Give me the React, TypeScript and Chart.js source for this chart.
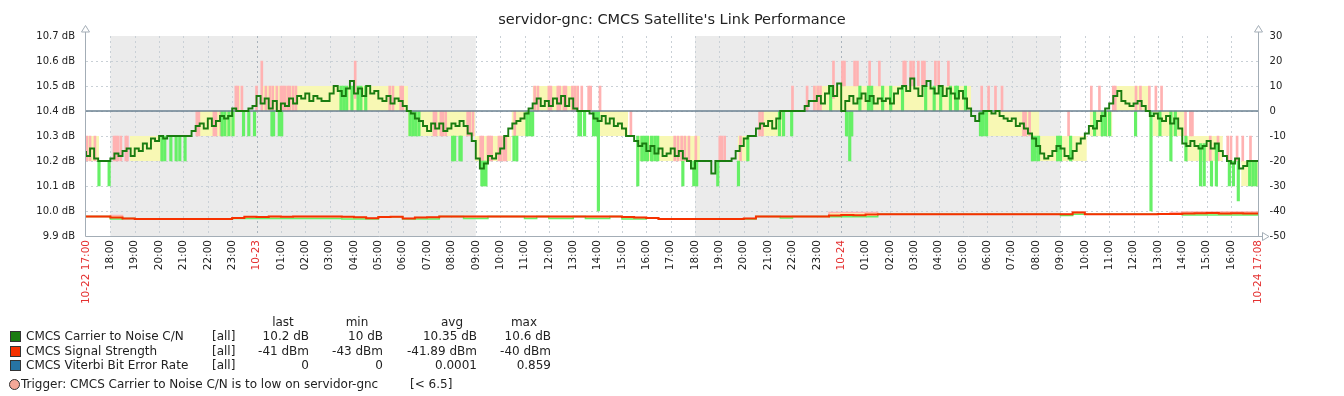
import React, { useEffect, useRef } from 'react';
import { Chart, registerables } from 'chart.js';

Chart.register(...registerables);

// ---------------- DATA ----------------
const TITLE = "servidor-gnc: CMCS Satellite's Link Performance";

// time axis: minutes since 10-22 17:00
const END_MIN = 2888; // 10-24 17:08
const CN_STEP = 10;
const SIG_STEP = 30;
const BER_STEP = 240;

const TICK_LABELS = [
  '10-22 17:00', '18:00', '19:00', '20:00', '21:00', '22:00', '23:00', '10-23',
  '01:00', '02:00', '03:00', '04:00', '05:00', '06:00', '07:00', '08:00', '09:00',
  '10:00', '11:00', '12:00', '13:00', '14:00', '15:00', '16:00', '17:00', '18:00',
  '19:00', '20:00', '21:00', '22:00', '23:00', '10-24', '01:00', '02:00', '03:00',
  '04:00', '05:00', '06:00', '07:00', '08:00', '09:00', '10:00', '11:00', '12:00',
  '13:00', '14:00', '15:00', '16:00', '10-24 17:08',
];

const LEFT_TICKS = [9.9, 10.0, 10.1, 10.2, 10.3, 10.4, 10.5, 10.6, 10.7];
const RIGHT_TICKS = [-50, -40, -30, -20, -10, 0, 10, 20, 30];

// non-working periods (shaded), minutes
const NON_WORK = [[60, 960], [1500, 2400]];

// CMCS Carrier to Noise C/N, average, 10-minute buckets
const CN_AVG = [
  10.24, 10.22, 10.25, 10.21, 10.20, 10.20,
  10.20, 10.21, 10.23, 10.22, 10.24, 10.25,
  10.22, 10.25, 10.24, 10.27, 10.25, 10.29,
  10.28, 10.30, 10.29, 10.30, 10.30, 10.30,
  10.30, 10.30, 10.30, 10.32, 10.34, 10.35,
  10.33, 10.37, 10.34, 10.36, 10.38, 10.37,
  10.38, 10.41, 10.40, 10.40, 10.40, 10.41,
  10.42, 10.46, 10.43, 10.45, 10.41, 10.44,
  10.40, 10.43, 10.42, 10.45, 10.43, 10.46,
  10.45, 10.47, 10.44, 10.46, 10.45, 10.44,
  10.44, 10.47, 10.50, 10.48, 10.46, 10.49,
  10.52, 10.47, 10.49, 10.46, 10.50, 10.47,
  10.48, 10.45, 10.44, 10.46, 10.43, 10.45,
  10.44, 10.42, 10.40, 10.39, 10.37, 10.36,
  10.34, 10.32, 10.35, 10.33, 10.35, 10.32,
  10.33, 10.35, 10.34, 10.36, 10.34, 10.31,
  10.28, 10.21, 10.17, 10.19, 10.22, 10.21,
  10.23, 10.25, 10.30, 10.33, 10.35, 10.36,
  10.37, 10.39, 10.41, 10.43, 10.45, 10.42,
  10.44, 10.42, 10.45, 10.43, 10.46, 10.42,
  10.45, 10.41, 10.40, 10.40, 10.40, 10.39,
  10.37, 10.36, 10.38, 10.35, 10.37, 10.34,
  10.35, 10.33, 10.30, 10.30, 10.28, 10.26,
  10.27, 10.24, 10.26, 10.23, 10.25, 10.22,
  10.23, 10.25, 10.22, 10.24, 10.21, 10.20,
  10.17, 10.20, 10.20, 10.20, 10.20, 10.15,
  10.20, 10.20, 10.20, 10.20, 10.21, 10.24,
  10.26, 10.29, 10.30, 10.30, 10.33, 10.35,
  10.34, 10.36, 10.33, 10.37, 10.40, 10.40,
  10.40, 10.40, 10.40, 10.40, 10.42, 10.44,
  10.44, 10.46, 10.43, 10.47, 10.50, 10.46,
  10.51, 10.40, 10.44, 10.46, 10.43, 10.45,
  10.47, 10.44, 10.46, 10.43, 10.45, 10.44,
  10.45, 10.43, 10.47, 10.49, 10.50, 10.48,
  10.53, 10.49, 10.46, 10.50, 10.52, 10.49,
  10.47, 10.50, 10.46, 10.49, 10.47, 10.45,
  10.48, 10.45, 10.41, 10.38, 10.36, 10.39,
  10.40, 10.40, 10.39, 10.40, 10.38, 10.37,
  10.36, 10.37, 10.34, 10.35, 10.33, 10.31,
  10.29, 10.26, 10.23, 10.21, 10.22, 10.24,
  10.26, 10.25, 10.22, 10.21, 10.24, 10.27,
  10.29, 10.31, 10.34, 10.33, 10.36, 10.38,
  10.41, 10.43, 10.46, 10.48, 10.44, 10.43,
  10.42, 10.43, 10.44, 10.42, 10.40, 10.38,
  10.39, 10.37, 10.36, 10.38, 10.35, 10.37,
  10.33, 10.27, 10.26, 10.28, 10.26, 10.25,
  10.26, 10.28, 10.25, 10.27, 10.24, 10.22,
  10.20, 10.19, 10.21, 10.17, 10.18, 10.20,
  10.20,
];

// C/N min-max region [startMin, endMin, low, high]
const CN_BANDS = [
  [0, 32, 10.2, 10.3], [108, 190, 10.2, 10.3], [270, 367, 10.3, 10.4],
  [367, 380, 10.4, 10.5], [433, 793, 10.4, 10.5], [793, 958, 10.3, 10.4],
  [958, 1048, 10.2, 10.3], [1048, 1100, 10.3, 10.4], [1100, 1210, 10.4, 10.5],
  [1248, 1335, 10.3, 10.4], [1357, 1512, 10.2, 10.3], [1605, 1635, 10.2, 10.3],
  [1660, 1720, 10.3, 10.4], [1790, 2180, 10.4, 10.5], [2220, 2348, 10.3, 10.4],
  [2348, 2465, 10.2, 10.3], [2472, 2528, 10.3, 10.4], [2528, 2620, 10.4, 10.5],
  [2627, 2705, 10.3, 10.4], [2705, 2800, 10.2, 10.3], [2845, 2888, 10.1, 10.2],
];

// C/N max excursions [minute, from, to]
const CN_MAX_SPIKES = [
  [2, 10.2, 10.3], [10, 10.2, 10.3], [22, 10.2, 10.3],
  [69, 10.2, 10.3], [74, 10.2, 10.3], [79, 10.2, 10.3], [86, 10.2, 10.3], [98, 10.2, 10.3], [102, 10.2, 10.3],
  [273, 10.3, 10.4], [278, 10.3, 10.4], [315, 10.3, 10.4], [320, 10.3, 10.4], [332, 10.3, 10.4],
  [369, 10.4, 10.5], [374, 10.4, 10.5], [384, 10.4, 10.5], [420, 10.4, 10.5], [433, 10.4, 10.6],
  [443, 10.4, 10.5], [453, 10.4, 10.5], [460, 10.4, 10.5], [470, 10.4, 10.5], [480, 10.4, 10.5],
  [485, 10.4, 10.5], [490, 10.4, 10.5], [497, 10.4, 10.5], [502, 10.4, 10.5], [510, 10.4, 10.5],
  [517, 10.4, 10.5], [663, 10.45, 10.6],
  [748, 10.4, 10.5], [756, 10.4, 10.5], [775, 10.4, 10.5], [780, 10.4, 10.5],
  [857, 10.3, 10.4], [862, 10.3, 10.4], [874, 10.3, 10.4], [879, 10.3, 10.4], [886, 10.3, 10.4],
  [940, 10.3, 10.4], [945, 10.3, 10.4], [953, 10.3, 10.4],
  [972, 10.2, 10.3], [977, 10.2, 10.3], [990, 10.2, 10.3], [994, 10.2, 10.3], [999, 10.2, 10.3],
  [1017, 10.2, 10.3], [1022, 10.2, 10.3], [1029, 10.2, 10.3], [1034, 10.2, 10.3],
  [1056, 10.3, 10.4],
  [1105, 10.4, 10.5], [1113, 10.4, 10.5], [1140, 10.4, 10.5], [1145, 10.4, 10.5], [1162, 10.4, 10.5],
  [1167, 10.4, 10.5], [1177, 10.4, 10.5], [1182, 10.4, 10.5], [1198, 10.4, 10.5], [1204, 10.4, 10.5],
  [1211, 10.4, 10.5], [1221, 10.4, 10.5], [1238, 10.4, 10.5], [1243, 10.4, 10.5], [1266, 10.4, 10.5],
  [1342, 10.3, 10.4],
  [1450, 10.2, 10.3], [1458, 10.2, 10.3], [1467, 10.2, 10.3], [1475, 10.2, 10.3], [1485, 10.2, 10.3],
  [1502, 10.2, 10.3], [1561, 10.2, 10.3], [1566, 10.2, 10.3], [1573, 10.2, 10.3], [1612, 10.2, 10.3],
  [1659, 10.3, 10.4], [1666, 10.3, 10.4],
  [1740, 10.4, 10.5], [1776, 10.4, 10.5], [1794, 10.4, 10.5], [1802, 10.4, 10.5], [1809, 10.4, 10.5],
  [1841, 10.45, 10.6], [1863, 10.5, 10.6], [1868, 10.5, 10.6], [1893, 10.5, 10.6], [1900, 10.5, 10.6],
  [1930, 10.5, 10.6], [1954, 10.5, 10.6], [2014, 10.5, 10.6], [2018, 10.5, 10.6], [2031, 10.5, 10.6],
  [2038, 10.5, 10.6], [2050, 10.5, 10.6], [2060, 10.5, 10.6], [2065, 10.5, 10.6], [2092, 10.5, 10.6],
  [2100, 10.5, 10.6], [2124, 10.5, 10.6],
  [2206, 10.4, 10.5], [2223, 10.4, 10.5], [2240, 10.4, 10.5], [2256, 10.4, 10.5],
  [2309, 10.3, 10.4], [2314, 10.3, 10.4], [2324, 10.3, 10.4], [2420, 10.3, 10.4],
  [2476, 10.4, 10.5], [2496, 10.4, 10.5],
  [2530, 10.4, 10.5], [2535, 10.4, 10.5], [2586, 10.4, 10.5], [2597, 10.4, 10.5], [2619, 10.4, 10.5],
  [2635, 10.4, 10.5], [2649, 10.4, 10.5],
  [2708, 10.3, 10.4], [2720, 10.3, 10.4], [2725, 10.3, 10.4],
  [2769, 10.2, 10.3], [2788, 10.2, 10.3], [2812, 10.2, 10.3], [2820, 10.2, 10.3], [2835, 10.2, 10.3],
  [2849, 10.2, 10.3], [2868, 10.2, 10.3],
];

// C/N min excursions [minute, from, to]
const CN_MIN_SPIKES = [
  [32, 10.2, 10.1], [57, 10.2, 10.1],
  [187, 10.3, 10.2], [194, 10.3, 10.2], [209, 10.3, 10.2], [222, 10.3, 10.2], [231, 10.3, 10.2], [244, 10.3, 10.2],
  [335, 10.4, 10.3], [342, 10.4, 10.3], [352, 10.4, 10.3], [362, 10.4, 10.3], [388, 10.4, 10.3],
  [401, 10.4, 10.3], [415, 10.4, 10.3], [458, 10.4, 10.3], [462, 10.4, 10.3], [476, 10.4, 10.3], [482, 10.4, 10.3],
  [628, 10.5, 10.4], [635, 10.5, 10.4], [642, 10.5, 10.4], [655, 10.5, 10.4], [670, 10.5, 10.4],
  [677, 10.5, 10.4], [689, 10.5, 10.4],
  [798, 10.4, 10.3], [805, 10.4, 10.3], [812, 10.4, 10.3], [820, 10.4, 10.3],
  [903, 10.3, 10.2], [908, 10.3, 10.2], [921, 10.3, 10.2], [924, 10.3, 10.2],
  [975, 10.2, 10.1], [980, 10.2, 10.1], [985, 10.2, 10.1],
  [1054, 10.3, 10.2], [1061, 10.3, 10.2],
  [1086, 10.4, 10.3], [1093, 10.4, 10.3], [1100, 10.4, 10.3],
  [1214, 10.4, 10.3], [1218, 10.4, 10.3], [1228, 10.4, 10.3], [1250, 10.4, 10.3], [1255, 10.4, 10.3],
  [1262, 10.4, 10.0],
  [1359, 10.3, 10.1], [1369, 10.3, 10.2], [1376, 10.3, 10.2], [1383, 10.3, 10.2], [1393, 10.3, 10.2],
  [1401, 10.3, 10.2], [1408, 10.3, 10.2],
  [1470, 10.2, 10.1], [1497, 10.2, 10.1], [1504, 10.2, 10.1], [1556, 10.2, 10.1], [1607, 10.2, 10.1],
  [1630, 10.3, 10.2],
  [1708, 10.4, 10.3], [1718, 10.4, 10.3], [1738, 10.4, 10.3],
  [1834, 10.5, 10.4], [1873, 10.4, 10.3], [1881, 10.4, 10.2], [1886, 10.4, 10.3],
  [1906, 10.5, 10.4], [1927, 10.5, 10.4], [1935, 10.5, 10.4], [1962, 10.5, 10.4], [1982, 10.5, 10.4],
  [2011, 10.5, 10.4], [2068, 10.5, 10.4], [2089, 10.5, 10.4], [2105, 10.5, 10.4], [2129, 10.5, 10.4],
  [2142, 10.5, 10.4], [2146, 10.5, 10.4], [2166, 10.5, 10.4],
  [2203, 10.4, 10.3], [2210, 10.4, 10.3], [2218, 10.4, 10.3],
  [2331, 10.3, 10.2], [2338, 10.3, 10.2], [2346, 10.3, 10.2],
  [2393, 10.3, 10.2], [2400, 10.3, 10.2], [2425, 10.3, 10.2],
  [2484, 10.4, 10.3], [2503, 10.4, 10.3], [2511, 10.4, 10.3], [2521, 10.4, 10.3],
  [2585, 10.4, 10.3], [2623, 10.4, 10.0],
  [2645, 10.4, 10.3], [2672, 10.4, 10.2], [2683, 10.4, 10.3], [2709, 10.3, 10.2],
  [2745, 10.27, 10.1], [2754, 10.27, 10.1], [2772, 10.2, 10.1], [2784, 10.27, 10.1],
  [2816, 10.2, 10.1], [2826, 10.2, 10.1], [2838, 10.2, 10.04],
  [2866, 10.2, 10.1], [2874, 10.2, 10.1], [2881, 10.2, 10.1],
];

// CMCS Signal Strength (dBm), 30-minute buckets
const SIG_AVG = [
  -42.2, -42.2, -42.2, -42.6, -43.0, -43.2, -43.2, -43.2,
  -43.2, -43.2, -43.2, -43.2, -43.2, -42.8, -42.3, -42.4,
  -42.2, -42.3, -42.2, -42.2, -42.2, -42.2, -42.3, -42.5,
  -42.9, -42.4, -42.3, -43.0, -42.6, -42.5, -42.2, -42.2,
  -42.2, -42.2, -42.2, -42.2, -42.2, -42.2, -42.2, -42.2,
  -42.2, -42.2, -42.2, -42.2, -42.2, -42.4, -42.6, -42.8,
  -43.2, -43.2, -43.2, -43.2, -43.2, -43.2, -43.2, -43.0,
  -42.2, -42.2, -42.2, -42.2, -42.2, -42.2, -41.8, -41.6,
  -41.7, -41.4, -41.3, -41.3, -41.3, -41.3, -41.3, -41.3,
  -41.3, -41.3, -41.3, -41.3, -41.3, -41.3, -41.3, -41.3,
  -41.3, -41.3, -40.6, -41.3, -41.3, -41.3, -41.3, -41.3,
  -41.3, -41.2, -41.2, -41.0, -40.9, -40.8, -41.0, -40.9,
  -41.0,
];
const SIG_MIN = [
  -42.2, -42.2, -42.2, -43.2, -43.0, -43.2, -43.2, -43.2,
  -43.2, -43.2, -43.2, -43.2, -43.2, -43.0, -43.0, -43.0,
  -43.0, -43.0, -43.0, -43.0, -43.0, -43.0, -43.2, -43.2,
  -43.2, -42.4, -42.3, -43.2, -43.2, -43.2, -42.2, -42.2,
  -43.0, -43.0, -42.2, -42.2, -42.2, -43.0, -42.2, -43.0,
  -43.0, -42.2, -43.0, -43.0, -42.2, -43.2, -43.2, -42.8,
  -43.2, -43.2, -43.2, -43.2, -43.2, -43.2, -43.2, -43.2,
  -42.2, -42.2, -42.8, -42.2, -42.2, -42.2, -42.3, -42.3,
  -42.3, -42.3, -41.3, -41.3, -41.3, -41.3, -41.3, -41.3,
  -41.3, -41.3, -41.3, -41.3, -41.3, -41.3, -41.3, -41.3,
  -41.3, -41.8, -41.3, -41.3, -41.3, -41.3, -41.3, -41.3,
  -41.3, -41.2, -41.2, -41.6, -41.6, -41.6, -41.6, -41.6,
  -41.6,
];
const SIG_MAX = [
  -42.2, -42.2, -42.2, -41.8, -43.0, -43.2, -43.2, -43.2,
  -43.2, -43.2, -43.2, -43.2, -43.2, -42.8, -42.3, -42.4,
  -42.2, -42.3, -42.2, -42.2, -42.2, -42.2, -42.3, -42.5,
  -42.9, -42.4, -42.3, -43.0, -42.6, -42.5, -42.2, -42.2,
  -42.2, -42.2, -42.2, -42.2, -42.2, -42.2, -42.2, -42.2,
  -42.2, -42.2, -42.2, -42.2, -42.2, -42.4, -42.6, -42.8,
  -43.2, -43.2, -43.2, -43.2, -43.2, -43.2, -43.2, -43.0,
  -42.2, -42.2, -42.2, -42.2, -42.2, -42.2, -40.6, -40.6,
  -40.6, -40.6, -41.3, -41.3, -41.3, -41.3, -41.3, -41.3,
  -41.3, -41.3, -41.3, -41.3, -41.3, -41.3, -41.3, -41.3,
  -41.3, -41.3, -40.4, -41.3, -41.3, -41.3, -41.3, -41.3,
  -41.3, -41.2, -40.6, -40.4, -40.4, -40.4, -40.4, -40.4,
  -40.4,
];

// CMCS Viterbi Bit Error Rate, 4-hour buckets
const BER_VALUES = [0, 0, 0, 0, 0, 0, 0, 0, 0, 0, 0, 0, 0];

// Legend table
const LEGEND_NAMES = ['CMCS Carrier to Noise C/N', 'CMCS Signal Strength', 'CMCS Viterbi Bit Error Rate'];
const LEGEND_FUNC = ['[all]', '[all]', '[all]'];
const STAT_HEADERS = ['last', 'min', 'avg', 'max'];
const LEGEND_LAST = ['10.2 dB', '-41 dBm', '0'];
const LEGEND_MIN = ['10 dB', '-43 dBm', '0'];
const LEGEND_AVG = ['10.35 dB', '-41.89 dBm', '0.0001'];
const LEGEND_MAX = ['10.6 dB', '-40 dBm', '0.859'];
const TRIGGER_TEXT = 'Trigger: CMCS Carrier to Noise C/N is to low on servidor-gnc';
const TRIGGER_VALUE = '[< 6.5]';

// ---------------- STYLE ----------------
const FONT = "'DejaVu Sans', 'Liberation Sans', sans-serif";
const SERIES_COLORS = ['#1a7c11', '#f63100', '#2774a4'];
const BER_LINE = '#6a8190';
const YELLOW = '#f8f8b4';
const PINK = '#ffb2b2';
const LIGHT_GREEN = '#66f066';
const SHADE = '#ebebeb';
const GRID = '#c9d0d6';
const GRID_DAY = '#a9b3bc';
const AXIS = '#a3adb6';
const TEXT = '#222222';
const RED = '#e43030';

const stepPoints = (vals: number[], step: number) => {
  const pts = vals.map((v, i) => ({ x: i * step, y: v }));
  pts.push({ x: END_MIN, y: vals[vals.length - 1] });
  return pts;
};

const tickValue = (i: number) => (i < TICK_LABELS.length - 1 ? i * 60 : END_MIN);

const zabbixPlugin = {
  id: 'zabbixFrame',
  beforeDatasetsDraw(chart: any) {
    const { ctx, chartArea } = chart;
    const { left, right, top, bottom } = chartArea;
    const xs = chart.scales.x;
    const ys = chart.scales.y;
    ctx.save();
    ctx.fillStyle = SHADE;
    for (const [s, e] of NON_WORK) {
      const x1 = xs.getPixelForValue(s);
      const x2 = xs.getPixelForValue(e);
      ctx.fillRect(x1, top, x2 - x1, bottom - top);
    }
    ctx.lineWidth = 1;
    ctx.setLineDash([2, 3]);
    for (let i = 1; i < LEFT_TICKS.length - 1; i++) {
      const py = Math.round(ys.getPixelForValue(LEFT_TICKS[i])) + 0.5;
      ctx.strokeStyle = GRID;
      ctx.beginPath();
      ctx.moveTo(left, py);
      ctx.lineTo(right, py);
      ctx.stroke();
    }
    for (let i = 1; i < TICK_LABELS.length - 1; i++) {
      const px = Math.round(xs.getPixelForValue(tickValue(i))) + 0.5;
      ctx.strokeStyle = TICK_LABELS[i].includes('-') ? GRID_DAY : GRID;
      ctx.beginPath();
      ctx.moveTo(px, top);
      ctx.lineTo(px, bottom);
      ctx.stroke();
    }
    ctx.restore();
  },
  afterDatasetsDraw(chart: any) {
    const { ctx, chartArea } = chart;
    const { left, right, top, bottom } = chartArea;
    const lx = Math.round(left) - 0.5;
    const rx = Math.round(right) - 0.5;
    const by = Math.round(bottom) + 0.5;
    ctx.save();
    ctx.setLineDash([]);
    ctx.lineWidth = 1;
    ctx.strokeStyle = AXIS;
    ctx.fillStyle = '#ffffff';
    const up = (x: number) => {
      ctx.beginPath();
      ctx.moveTo(x, by);
      ctx.lineTo(x, top - 4);
      ctx.stroke();
      ctx.beginPath();
      ctx.moveTo(x - 4, top - 4);
      ctx.lineTo(x + 4, top - 4);
      ctx.lineTo(x, top - 10.5);
      ctx.closePath();
      ctx.fill();
      ctx.stroke();
    };
    up(lx);
    up(rx);
    ctx.beginPath();
    ctx.moveTo(lx, by);
    ctx.lineTo(rx + 4, by);
    ctx.stroke();
    ctx.beginPath();
    ctx.moveTo(rx + 4, by - 4);
    ctx.lineTo(rx + 4, by + 4);
    ctx.lineTo(rx + 10.5, by);
    ctx.closePath();
    ctx.fill();
    ctx.stroke();
    ctx.restore();
  },
};

function buildConfig(): any {
  const bandSets = CN_BANDS.map(([s, e, lo, hi]) => ({
    type: 'line',
    data: [{ x: s, y: hi }, { x: e, y: hi }],
    yAxisID: 'y',
    borderColor: 'transparent',
    borderWidth: 0,
    pointRadius: 0,
    backgroundColor: YELLOW,
    fill: { value: lo },
    order: 10,
  }));

  const datasets: any[] = [
    {
      type: 'line',
      label: LEGEND_NAMES[0],
      data: stepPoints(CN_AVG, CN_STEP),
      yAxisID: 'y',
      stepped: 'after',
      borderColor: SERIES_COLORS[0],
      borderWidth: 1.9,
      pointRadius: 0,
      fill: false,
      order: 0,
    },
    {
      type: 'line',
      label: LEGEND_NAMES[2],
      data: stepPoints(BER_VALUES, BER_STEP),
      yAxisID: 'y1',
      borderColor: BER_LINE,
      borderWidth: 1.6,
      pointRadius: 0,
      fill: false,
      order: 1,
    },
    {
      type: 'line',
      label: LEGEND_NAMES[1],
      data: stepPoints(SIG_AVG, SIG_STEP),
      yAxisID: 'y1',
      stepped: 'after',
      borderColor: SERIES_COLORS[1],
      borderWidth: 2,
      pointRadius: 0,
      fill: false,
      order: 2,
    },
    {
      type: 'line',
      label: 'sig max',
      data: stepPoints(SIG_MAX, SIG_STEP),
      yAxisID: 'y1',
      stepped: 'after',
      borderColor: PINK,
      borderWidth: 1.5,
      pointRadius: 0,
      backgroundColor: YELLOW,
      fill: '+1',
      order: 4,
    },
    {
      type: 'line',
      label: 'sig min',
      data: stepPoints(SIG_MIN, SIG_STEP),
      yAxisID: 'y1',
      stepped: 'after',
      borderColor: LIGHT_GREEN,
      borderWidth: 1.5,
      pointRadius: 0,
      fill: false,
      order: 3,
    },
    {
      type: 'bar',
      label: 'cn min',
      data: CN_MIN_SPIKES.map(([t, a, b]) => ({ x: t, y: [b, a] })),
      yAxisID: 'y',
      backgroundColor: LIGHT_GREEN,
      borderWidth: 0,
      barThickness: 2.5,
      grouped: false,
      order: 5,
    },
    {
      type: 'bar',
      label: 'cn max',
      data: CN_MAX_SPIKES.map(([t, a, b]) => ({ x: t, y: [a, b] })),
      yAxisID: 'y',
      backgroundColor: PINK,
      borderWidth: 0,
      barThickness: 2,
      grouped: false,
      order: 6,
    },
    ...bandSets,
  ];

  return {
    type: 'line',
    data: { datasets },
    plugins: [zabbixPlugin],
    options: {
      animation: false,
      responsive: false,
      events: [],
      layout: { padding: { left: 0, right: 0, top: 0, bottom: 90 } },
      plugins: {
        legend: { display: false },
        tooltip: { enabled: false },
        title: {
          display: true,
          text: TITLE,
          color: TEXT,
          font: { family: FONT, size: 14.5, weight: 'normal' },
          padding: { top: 12, bottom: 6.6 },
        },
      },
      scales: {
        x: {
          type: 'linear',
          min: 0,
          max: END_MIN,
          bounds: 'data',
          offset: false,
          grid: { display: false, drawTicks: false },
          border: { display: false },
          afterBuildTicks: (s: any) => {
            s.ticks = TICK_LABELS.map((_, i) => ({ value: tickValue(i) }));
          },
          afterFit: (s: any) => {
            s.height = 70;
          },
          ticks: {
            autoSkip: false,
            minRotation: 90,
            maxRotation: 90,
            padding: 4,
            font: { family: FONT, size: 10.5 },
            color: (c: any) => (TICK_LABELS[c.index] && TICK_LABELS[c.index].includes('-') ? RED : TEXT),
            callback: (_v: any, i: number) => TICK_LABELS[i],
          },
        },
        y: {
          type: 'linear',
          position: 'left',
          min: 9.9,
          max: 10.7,
          bounds: 'data',
          grid: { display: false, drawTicks: false },
          border: { display: false },
          afterBuildTicks: (s: any) => {
            s.ticks = LEFT_TICKS.map((v) => ({ value: v }));
          },
          afterFit: (s: any) => {
            s.width = 86;
          },
          ticks: {
            padding: 11,
            color: TEXT,
            font: { family: FONT, size: 10 },
            callback: (v: any) => Number(v).toFixed(1) + ' dB',
          },
        },
        y1: {
          type: 'linear',
          position: 'right',
          min: -50,
          max: 30,
          bounds: 'data',
          grid: { display: false, drawTicks: false },
          border: { display: false },
          afterBuildTicks: (s: any) => {
            s.ticks = RIGHT_TICKS.map((v) => ({ value: v }));
          },
          afterFit: (s: any) => {
            s.width = 85.4;
          },
          ticks: {
            padding: 11,
            color: TEXT,
            font: { family: FONT, size: 10 },
            callback: (v: any) => String(v),
          },
        },
      },
    },
  };
}

const ROW_Y = [336, 350.5, 364.5];
const HEADER_Y = 322;
const HEADER_X = [283, 357, 452, 524];
const COL_RIGHT = [309, 383, 477, 551];

function Txt(props: { x: number; y: number; text: string; align?: 'left' | 'right' | 'center'; color?: string }) {
  const { x, y, text, align = 'left', color = TEXT } = props;
  const tf = align === 'right' ? 'translate(-100%, -50%)' : align === 'center' ? 'translate(-50%, -50%)' : 'translateY(-50%)';
  return (
    <div style={{ position: 'absolute', left: x, top: y, transform: tf, whiteSpace: 'nowrap', lineHeight: '14px', color }}>
      {text}
    </div>
  );
}

export default function App() {
  const canvasRef = useRef<HTMLCanvasElement>(null);

  useEffect(() => {
    document.body.style.margin = '0';
    Chart.defaults.font.family = FONT;
    const chart = new Chart(canvasRef.current as HTMLCanvasElement, buildConfig());
    return () => chart.destroy();
  }, []);

  const stats = [LEGEND_LAST, LEGEND_MIN, LEGEND_AVG, LEGEND_MAX];

  return (
    <div style={{ position: 'absolute', left: 0, top: 0, width: 1344, height: 396, background: '#ffffff', fontFamily: FONT, fontSize: 12 }}>
      <canvas ref={canvasRef} width={1344} height={396} style={{ position: 'absolute', left: 0, top: 0, width: 1344, height: 396 }} />
      {STAT_HEADERS.map((h, i) => (
        <Txt key={'h' + i} x={HEADER_X[i]} y={HEADER_Y} text={h} align="center" />
      ))}
      {LEGEND_NAMES.map((name, r) => (
        <React.Fragment key={'r' + r}>
          <div
            style={{
              position: 'absolute',
              left: 10,
              top: ROW_Y[r] - 5,
              width: 9,
              height: 9,
              background: SERIES_COLORS[r],
              border: '1px solid #333',
            }}
          />
          <Txt x={26} y={ROW_Y[r]} text={name} />
          <Txt x={212} y={ROW_Y[r]} text={LEGEND_FUNC[r]} />
          {stats.map((col, c) => (
            <Txt key={'c' + c} x={COL_RIGHT[c]} y={ROW_Y[r]} text={col[r]} align="right" />
          ))}
        </React.Fragment>
      ))}
      <div
        style={{
          position: 'absolute',
          left: 9,
          top: 379,
          width: 9,
          height: 9,
          borderRadius: '50%',
          background: '#f4a898',
          border: '1px solid #333',
        }}
      />
      <Txt x={21} y={384} text={TRIGGER_TEXT} />
      <Txt x={410} y={384} text={TRIGGER_VALUE} />
    </div>
  );
}
